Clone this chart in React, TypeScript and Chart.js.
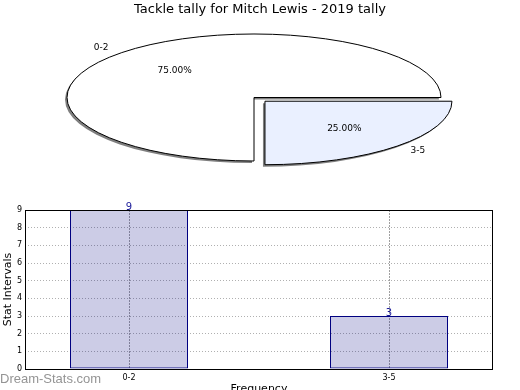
import React, { useEffect, useRef } from "react";
import { Chart, registerables } from "chart.js";

Chart.register(...registerables);

// ---- data ----
const TITLE = "Tackle tally for Mitch Lewis - 2019 tally";
const categories = ["0-2", "3-5"];
const counts = [9, 3];
const yTickValues = [0, 1, 2, 3, 4, 5, 6, 7, 8, 9];
const explode = [0, 62];
const sliceColors = ["#ffffff", "#eaf0ff"];
const Y_TITLE = "Stat Intervals";
const X_TITLE = "Frequency";
const WATERMARK = "Dream-Stats.com";

// ---- style / layout constants ----
const FONT = "DejaVu Sans";
const PIE_CX = 254;
const PIE_CY = 97.5;
const PIE_R = 187;
const SQUASH = 63.5 / 187;

const pieSquash = {
  id: "pieSquash",
  beforeDatasetsDraw(chart: any) {
    const ctx = chart.ctx;
    const arc = chart.getDatasetMeta(0).data[0];
    ctx.save();
    ctx.translate(PIE_CX, PIE_CY);
    ctx.scale(1, SQUASH);
    ctx.translate(-arc.x, -arc.y);
    ctx.shadowColor = "rgba(0,0,0,0.5)";
    ctx.shadowBlur = 0.5;
    ctx.shadowOffsetX = -2;
    ctx.shadowOffsetY = 2;
    const orig = CanvasRenderingContext2D.prototype.stroke;
    ctx.stroke = function (...args: any[]) {
      this.save();
      this.setTransform(1, 0, 0, 1, 0, 0);
      this.shadowColor = "rgba(0,0,0,0)";
      (orig as any).apply(this, args);
      this.restore();
    };
  },
  afterDatasetsDraw(chart: any) {
    const ctx = chart.ctx;
    delete ctx.stroke;
    ctx.restore();
  },
  afterDraw(chart: any) {
    const ctx = chart.ctx;
    const meta = chart.getDatasetMeta(0);
    const total = counts.reduce((a, b) => a + b, 0);
    ctx.save();
    ctx.fillStyle = "#000";
    ctx.font = `9px "${FONT}"`;
    ctx.textBaseline = "middle";
    meta.data.forEach((arc: any, i: number) => {
      const mid = (arc.startAngle + arc.endAngle) / 2;
      const off = (arc.options.offset || 0) / 4;
      const at = (r: number) => ({
        x: PIE_CX + Math.cos(mid) * (r + off),
        y: PIE_CY + Math.sin(mid) * (r + off) * SQUASH,
      });
      const lp = at(arc.outerRadius * 1.1);
      ctx.textAlign = Math.cos(mid) < 0 ? "right" : "left";
      ctx.fillText(categories[i], lp.x, lp.y);
      const pp = at(arc.outerRadius * 0.6);
      ctx.textAlign = "center";
      ctx.fillText(((counts[i] / total) * 100).toFixed(2) + "%", pp.x, pp.y);
    });
    ctx.restore();
  },
};

const frame = {
  id: "frame",
  afterDraw(chart: any) {
    const { ctx, chartArea: a } = chart;
    ctx.save();
    ctx.strokeStyle = "#000";
    ctx.lineWidth = 1;
    ctx.strokeRect(a.left + 0.5, a.top + 0.5, a.right - a.left - 1, a.bottom - a.top);
    ctx.restore();
  },
};

const valueLabels = {
  id: "valueLabels",
  afterDraw(chart: any) {
    const ctx = chart.ctx;
    const meta = chart.getDatasetMeta(0);
    ctx.save();
    ctx.fillStyle = "#1a1a99";
    ctx.font = `10px "${FONT}"`;
    ctx.textAlign = "center";
    ctx.textBaseline = "alphabetic";
    meta.data.forEach((bar: any, i: number) => {
      ctx.fillText(String(counts[i]), bar.x, bar.y);
    });
    ctx.restore();
  },
};

const watermark = {
  id: "watermark",
  afterDraw(chart: any) {
    const ctx = chart.ctx;
    ctx.save();
    ctx.fillStyle = "#949494";
    ctx.font = `13px "Liberation Sans"`;
    ctx.textAlign = "left";
    ctx.textBaseline = "alphabetic";
    ctx.fillText(WATERMARK, 0, 188);
    ctx.restore();
  },
};

export default function App() {
  const pieRef = useRef<HTMLCanvasElement>(null);
  const barRef = useRef<HTMLCanvasElement>(null);

  useEffect(() => {
    Chart.defaults.font.family = FONT;
    const pie = new Chart(pieRef.current as HTMLCanvasElement, {
      type: "pie",
      data: {
        labels: categories,
        datasets: [
          {
            data: counts,
            backgroundColor: sliceColors,
            borderColor: "#000",
            borderWidth: 1,
            borderJoinStyle: "miter",
            offset: explode,
            radius: PIE_R,
            rotation: 180,
            clip: false,
          } as any,
        ],
      },
      options: {
        animation: false,
        responsive: false,
        events: [],
        plugins: {
          legend: { display: false },
          tooltip: { enabled: false },
          title: {
            display: true,
            text: TITLE,
            color: "#000",
            font: { family: FONT, size: 13, weight: "normal" },
            padding: { top: 2, bottom: 0 },
          },
        },
      } as any,
      plugins: [pieSquash],
    });

    const bar = new Chart(barRef.current as HTMLCanvasElement, {
      type: "bar",
      data: {
        datasets: [
          {
            data: categories.map((_, i) => ({ x: i, y: counts[i] })),
            backgroundColor: "rgba(0,0,128,0.2)",
            borderColor: "#000080",
            borderWidth: 1,
            borderSkipped: false,
            inflateAmount: 0,
            barPercentage: 118 / 260,
            categoryPercentage: 1,
          } as any,
        ],
      },
      options: {
        animation: false,
        responsive: false,
        events: [],
        layout: { padding: { top: 15, right: 27, left: 0, bottom: 0 } },
        scales: {
          x: {
            type: "linear",
            min: -0.4,
            max: 1.4,
            offset: false,
            afterBuildTicks: (s: any) => {
              s.ticks = categories.map((_, i) => ({ value: i }));
            },
            afterFit: (s: any) => {
              s.height = 36;
            },
            ticks: {
              callback: (v: any) => categories[v] ?? "",
              color: "#000",
              font: { family: FONT, size: 8 },
              padding: 4,
              autoSkip: false,
              maxRotation: 0,
            },
            grid: { color: "#a0a0a0", drawTicks: false, offset: false },
            border: { display: false, dash: [2, 1] },
            title: {
              display: true,
              text: X_TITLE,
              color: "#000",
              font: { family: FONT, size: 11 },
              padding: { top: 0, bottom: 9 },
            },
          },
          y: {
            min: 0,
            max: 9,
            afterBuildTicks: (s: any) => {
              s.ticks = yTickValues.map((v) => ({ value: v }));
            },
            afterFit: (s: any) => {
              s.width = 25;
            },
            ticks: {
              color: "#000",
              font: { family: FONT, size: 8 },
              padding: 3,
            },
            grid: { color: "#b0b0b0", drawTicks: false },
            border: { display: false, dash: [1, 2] },
            title: {
              display: true,
              text: Y_TITLE,
              color: "#000",
              font: { family: FONT, size: 11 },
              padding: { top: 2, bottom: 0 },
            },
          },
        },
        plugins: {
          legend: { display: false },
          tooltip: { enabled: false },
          title: { display: false },
        },
      } as any,
      plugins: [frame, valueLabels, watermark],
    });

    return () => {
      pie.destroy();
      bar.destroy();
    };
  }, []);

  return (
    <div
      style={{
        position: "fixed",
        left: 0,
        top: 0,
        width: 520,
        height: 390,
        overflow: "hidden",
        background: "#fff",
      }}
    >
      <canvas
        ref={pieRef}
        width={520}
        height={195}
        style={{ position: "absolute", left: 0, top: 0, width: 520, height: 195 }}
      />
      <canvas
        ref={barRef}
        width={520}
        height={210}
        style={{ position: "absolute", left: 0, top: 195, width: 520, height: 210 }}
      />
    </div>
  );
}
